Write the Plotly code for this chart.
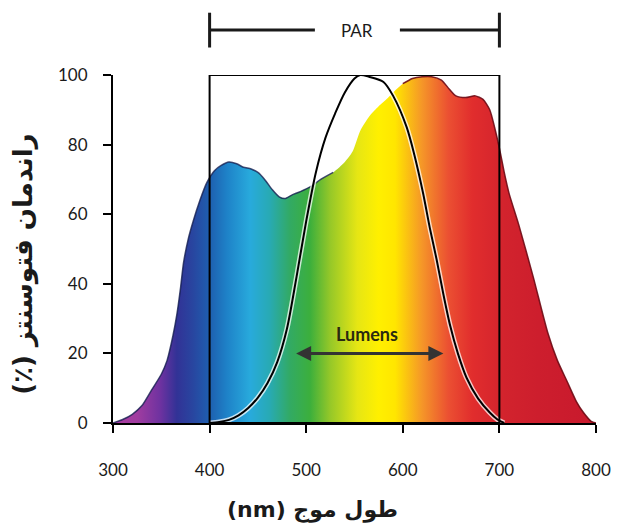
import plotly.graph_objects as go

# ---- data ----
spec_x = [300, 310, 320, 330, 340, 350, 356, 362, 366, 370, 373, 378, 383, 390, 397, 405, 412, 420,
          428, 435, 443, 450, 457, 465, 472, 478, 485, 494, 505, 515, 528, 540, 548, 556, 565, 575,
          583, 590, 600, 610, 620, 630, 640, 648, 655, 665, 675, 683, 690, 695, 700, 705, 710, 720,
          735, 750, 760, 770, 780, 787, 795, 800]
spec_y = [0, 1, 2.5, 5, 9.5, 14, 18, 25, 31, 39, 46, 53, 58, 64, 69, 72.5, 74, 75,
          74.5, 73.5, 73, 72, 70, 67, 65, 64.5, 65.5, 66.5, 68, 70, 72, 75, 78, 84, 88, 91,
          93, 95, 97.5, 99, 99.5, 99.5, 98.5, 96, 94, 93.5, 94, 93, 90, 85, 79, 72, 66, 57,
          42, 26, 18, 12, 6, 3, 0.5, 0]

lum_x = [400, 410, 420, 430, 440, 450, 460, 470, 480, 490, 500, 510, 520, 530, 540, 550, 556,
         565, 580, 590, 604, 612, 621, 628, 635, 642, 649, 657, 666, 678, 690, 698, 705]
lum_y = [0, 0.3, 0.9, 2.2, 4.3, 7.3, 11.5, 17.5, 27, 42, 58, 72, 82, 89, 95, 99, 100,
         99.5, 98, 94, 85, 77, 66, 56, 47, 37, 28, 20, 13, 7, 3, 1, 0]

x_ticks = [300, 400, 500, 600, 700, 800]
y_ticks = [0, 20, 40, 60, 80, 100]

par_range = [400, 700]
arrow_range = [488, 642]

# spectrum colours by wavelength
spec_colors = [
    (300, "rgb(170,60,160)"), (325, "rgb(160,60,160)"), (349, "rgb(110,50,160)"),
    (366, "rgb(50,50,150)"), (383, "rgb(40,70,160)"), (400, "rgb(30,95,175)"),
    (418, "rgb(30,130,200)"), (442, "rgb(40,170,220)"), (462, "rgb(40,170,180)"),
    (483, "rgb(50,170,100)"), (504, "rgb(60,175,60)"), (525, "rgb(150,200,40)"),
    (553, "rgb(230,230,20)"), (575, "rgb(255,240,0)"), (592, "rgb(255,230,0)"),
    (620, "rgb(245,150,40)"), (647, "rgb(235,80,50)"), (672, "rgb(225,45,45)"),
    (706, "rgb(210,35,45)"), (740, "rgb(205,30,45)"), (800, "rgb(200,25,45)"),
]

xmin, xmax = 300, 800
colorscale = [[(w - xmin) / (xmax - xmin), c] for w, c in spec_colors]

fig = go.Figure()

# spectrum filled with rainbow gradient
fig.add_trace(go.Scatter(
    x=spec_x, y=spec_y, mode="lines", line=dict(width=0, shape="spline", smoothing=0.6),
    fill="tozeroy",
    fillgradient=dict(type="horizontal", colorscale=colorscale, start=xmin, stop=xmax),
    hoverinfo="skip", showlegend=False,
))

# outline of spectrum (dark on blue side, dark red on red side)
left = [(x, y) for x, y in zip(spec_x, spec_y) if x <= 528]
right = [(x, y) for x, y in zip(spec_x, spec_y) if x >= 600]
fig.add_trace(go.Scatter(
    x=[p[0] for p in left], y=[p[1] for p in left], mode="lines",
    line=dict(color="rgba(20,30,80,0.8)", width=1.5, shape="spline", smoothing=0.6),
    hoverinfo="skip", showlegend=False,
))
fig.add_trace(go.Scatter(
    x=[p[0] for p in right], y=[p[1] for p in right], mode="lines",
    line=dict(color="rgba(110,10,20,0.9)", width=1.5, shape="spline", smoothing=0.6),
    hoverinfo="skip", showlegend=False,
))

# lumens curve with white halo
fig.add_trace(go.Scatter(
    x=lum_x, y=lum_y, mode="lines",
    line=dict(color="rgba(255,255,255,0.75)", width=5, shape="spline", smoothing=0.8),
    cliponaxis=False, hoverinfo="skip", showlegend=False,
))
fig.add_trace(go.Scatter(
    x=lum_x, y=lum_y, mode="lines",
    line=dict(color="black", width=2, shape="spline", smoothing=0.8),
    cliponaxis=False, hoverinfo="skip", showlegend=False,
))

# PAR box
fig.add_shape(type="rect", xref="x", yref="y", x0=par_range[0], x1=par_range[1], y0=0, y1=100,
              line=dict(color="black", width=2), layer="above")

# PAR bracket above the plot
par_mid = (par_range[0] + par_range[1]) / 2 + 3
by, bh = 1.129, 0.05
bracket = dict(color="#1a1a1a", width=3)
fig.add_shape(type="line", xref="x", yref="paper", x0=par_range[0], x1=par_mid - 44,
              y0=by, y1=by, line=bracket)
fig.add_shape(type="line", xref="x", yref="paper", x0=par_mid + 44, x1=par_range[1],
              y0=by, y1=by, line=bracket)
fig.add_shape(type="line", xref="x", yref="paper", x0=par_range[0], x1=par_range[0],
              y0=by - bh, y1=by + bh, line=bracket)
fig.add_shape(type="line", xref="x", yref="paper", x0=par_range[1], x1=par_range[1],
              y0=by - bh, y1=by + bh, line=bracket)

annotations = [
    dict(x=par_mid, y=by, xref="x", yref="paper", text="PAR", showarrow=False,
         xanchor="center", yanchor="middle",
         font=dict(family="Lato, Open Sans, sans-serif", size=17, color="#1a1a1a")),
    dict(x=563, y=25.5, xref="x", yref="y", text="<b>Lumens</b>", showarrow=False,
         xanchor="center", yanchor="middle",
         font=dict(family="Lato, Open Sans, sans-serif", size=18, color="#2a2a10")),
    dict(x=arrow_range[1], y=20, ax=arrow_range[0], ay=20, xref="x", yref="y",
         axref="x", ayref="y", text="", showarrow=True, arrowhead=2, arrowside="end+start",
         arrowsize=1, arrowwidth=3, arrowcolor="#333333", standoff=0, startstandoff=0),
    dict(x=-0.186, y=0.455, xref="paper", yref="paper", text="<b>(٪) راندمان فتوسنتز</b>",
         textangle=-90, showarrow=False, xanchor="center", yanchor="middle",
         font=dict(family="DejaVu Sans, sans-serif", size=26, color="#1a1a1a")),
    dict(x=0.414, y=-0.25, xref="paper", yref="paper", text="<b>(nm) طول موج</b>",
         showarrow=False, xanchor="center", yanchor="middle",
         font=dict(family="DejaVu Sans, sans-serif", size=22, color="#1a1a1a")),
]

axis_common = dict(showline=True, linecolor="black", linewidth=2, ticks="outside",
                   ticklen=8, tickwidth=2, tickcolor="black", showgrid=False, zeroline=False,
                   tickfont=dict(family="Lato, Open Sans, sans-serif", size=17, color="#1a1a1a"))

fig.update_layout(
    width=627, height=529,
    margin=dict(l=105, r=39, t=67, b=114),
    paper_bgcolor="white", plot_bgcolor="white",
    xaxis=dict(range=[xmin, xmax], tickvals=x_ticks, ticklabelstandoff=23, **axis_common),
    yaxis=dict(range=[0, 100], tickvals=y_ticks, ticklabelstandoff=12, **axis_common),
    annotations=annotations,
    showlegend=False,
)

fig.write_html("out.html")
